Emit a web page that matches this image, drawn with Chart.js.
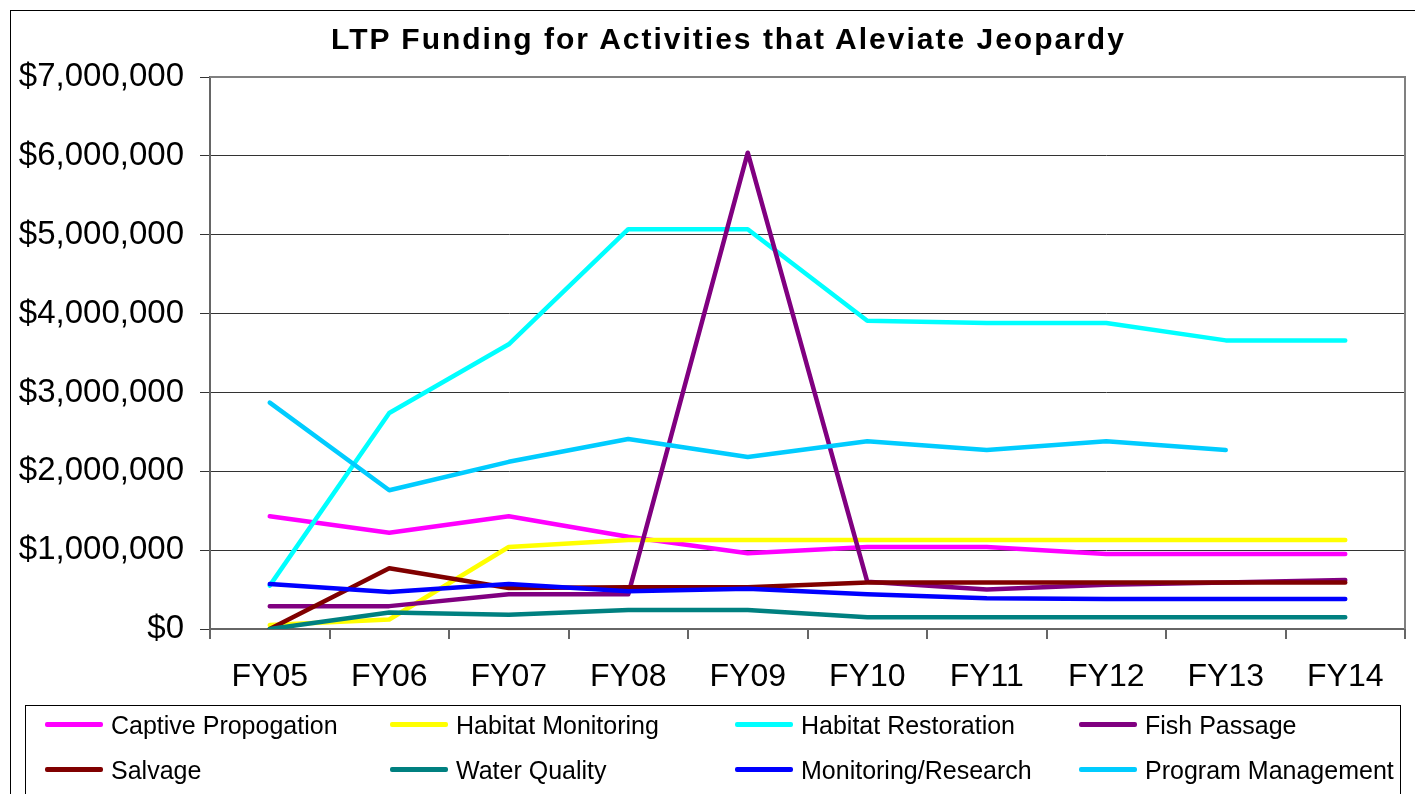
<!DOCTYPE html>
<html>
<head>
<meta charset="utf-8">
<script src="https://cdn.jsdelivr.net/npm/chart.js@4.4.1/dist/chart.umd.min.js"></script>
<style>
  html, body { margin: 0; padding: 0; background: #fff; overflow: hidden; }
  #wrap { position: relative; width: 1415px; height: 794px; font-family: "Liberation Sans", Arial, sans-serif; }
  #frame { position: absolute; left: 10px; top: 10px; width: 1420px; height: 800px; border-left: 1px solid #000; border-top: 1px solid #000; }
  #title { position: absolute; left: 0; top: 24px; width: 1457px; text-align: center; font-weight: bold; font-size: 30px; line-height: 30px; letter-spacing: 2px; color: #000; }
  #legend { position: absolute; left: 25px; top: 705px; width: 1374px; height: 100px; border: 1px solid #000; }
  .item { position: absolute; height: 30px; font-size: 25px; line-height: 30px; color: #000; white-space: nowrap; }
  .item span.swatch { position: absolute; left: 0; top: 12px; width: 58px; height: 5px; border-radius: 2px; }
  .item span.txt { position: absolute; left: 66px; top: 0; }
</style>
</head>
<body>
<div id="wrap">
  <div id="frame"></div>
  <canvas id="ltpChart" width="1415" height="794"></canvas>
  <div id="title">LTP Funding for Activities that Aleviate Jeopardy</div>
  <div id="legend"></div>
</div>

<script>
  // fiscal years on the x axis
  const years = ['FY05', 'FY06', 'FY07', 'FY08', 'FY09', 'FY10', 'FY11', 'FY12', 'FY13', 'FY14'];

  // funding by activity, dollars
  const captivePropogation = [1430000, 1220000, 1430000, 1170000, 960000, 1040000, 1040000, 950000, 950000, 950000];
  const habitatMonitoring  = [50000, 120000, 1040000, 1130000, 1130000, 1130000, 1130000, 1130000, 1130000, 1130000];
  const habitatRestoration = [550000, 2740000, 3610000, 5070000, 5070000, 3910000, 3880000, 3880000, 3660000, 3660000];
  const fishPassage        = [290000, 290000, 440000, 440000, 6040000, 600000, 500000, 560000, 590000, 620000];
  const salvage            = [0, 770000, 520000, 530000, 530000, 590000, 590000, 590000, 590000, 590000];
  const waterQuality       = [0, 210000, 180000, 240000, 240000, 150000, 150000, 150000, 150000, 150000];
  const monitoringResearch = [570000, 470000, 570000, 480000, 510000, 440000, 390000, 380000, 380000, 380000];
  const programManagement  = [2870000, 1760000, 2120000, 2410000, 2180000, 2380000, 2270000, 2380000, 2270000, null];

  const seriesNames  = ['Captive Propogation', 'Habitat Monitoring', 'Habitat Restoration', 'Fish Passage',
                        'Salvage', 'Water Quality', 'Monitoring/Research', 'Program Management'];
  const seriesValues = [captivePropogation, habitatMonitoring, habitatRestoration, fishPassage,
                        salvage, waterQuality, monitoringResearch, programManagement];
  const seriesColors = ['#ff00ff', '#ffff00', '#00ffff', '#800080', '#800000', '#008080', '#0000ff', '#00ccff'];

  const yTicks = [0, 1000000, 2000000, 3000000, 4000000, 5000000, 6000000, 7000000];

  const font = '"Liberation Sans", Arial, sans-serif';

  // later series sit on top, like the original
  const datasets = seriesNames.map(function (name, i) {
    return {
      label: name,
      data: seriesValues[i],
      borderColor: seriesColors[i],
      backgroundColor: seriesColors[i],
      borderWidth: 4.5,
      pointRadius: 0,
      tension: 0,
      fill: false,
      borderCapStyle: 'round',
      borderJoinStyle: 'round',
      spanGaps: false,
      order: seriesNames.length - i
    };
  });

  // gray border round the plot area
  const plotBorder = {
    id: 'plotBorder',
    beforeDatasetsDraw: function (chart) {
      const a = chart.chartArea, ctx = chart.ctx;
      ctx.save();
      ctx.strokeStyle = '#808080';
      ctx.lineWidth = 2;
      ctx.beginPath();
      ctx.moveTo(a.left, a.top);
      ctx.lineTo(a.right, a.top);
      ctx.lineTo(a.right, a.bottom);
      ctx.stroke();
      ctx.restore();
    }
  };

  const ctx = document.getElementById('ltpChart').getContext('2d');
  const chart = new Chart(ctx, {
    type: 'line',
    data: { labels: years, datasets: datasets },
    plugins: [plotBorder],
    options: {
      responsive: false,
      animation: false,
      devicePixelRatio: 1,
      layout: { padding: { top: 77, left: 0, right: 10, bottom: 94 } },
      plugins: {
        legend: { display: false },
        title: { display: false },
        tooltip: { enabled: false }
      },
      scales: {
        x: {
          offset: true,
          grid: { offset: true, drawOnChartArea: false, drawTicks: true, tickLength: 10, color: '#666', lineWidth: 2 },
          border: { color: '#666', width: 2 },
          ticks: { color: '#000', font: { family: font, size: 32 }, padding: 19, maxRotation: 0, autoSkip: false },
          afterFit: function (s) { s.height = 71; }
        },
        y: {
          min: 0,
          max: 7000000,
          afterBuildTicks: function (s) { s.ticks = yTicks.map(function (v) { return { value: v }; }); },
          grid: { color: '#333', lineWidth: 1, drawTicks: true, tickLength: 10, tickColor: '#333' },
          border: { color: '#666', width: 2 },
          ticks: {
            color: '#000',
            font: { family: font, size: 33 },
            padding: 16,
            callback: function (v) { return '$' + Number(v).toLocaleString('en-US'); }
          },
          afterFit: function (s) { s.width = 210; }
        }
      }
    }
  });

  // legend built from the chart's own datasets, 4 columns x 2 rows
  const colX = [19, 364, 709, 1053];
  const rowY = [4, 49];
  const legendBox = document.getElementById('legend');
  chart.data.datasets.forEach(function (ds, i) {
    const item = document.createElement('div');
    item.className = 'item';
    item.style.left = colX[i % 4] + 'px';
    item.style.top = rowY[Math.floor(i / 4)] + 'px';
    const sw = document.createElement('span');
    sw.className = 'swatch';
    sw.style.background = ds.borderColor;
    const tx = document.createElement('span');
    tx.className = 'txt';
    tx.textContent = ds.label;
    item.appendChild(sw);
    item.appendChild(tx);
    legendBox.appendChild(item);
  });
</script>
</body>
</html>
